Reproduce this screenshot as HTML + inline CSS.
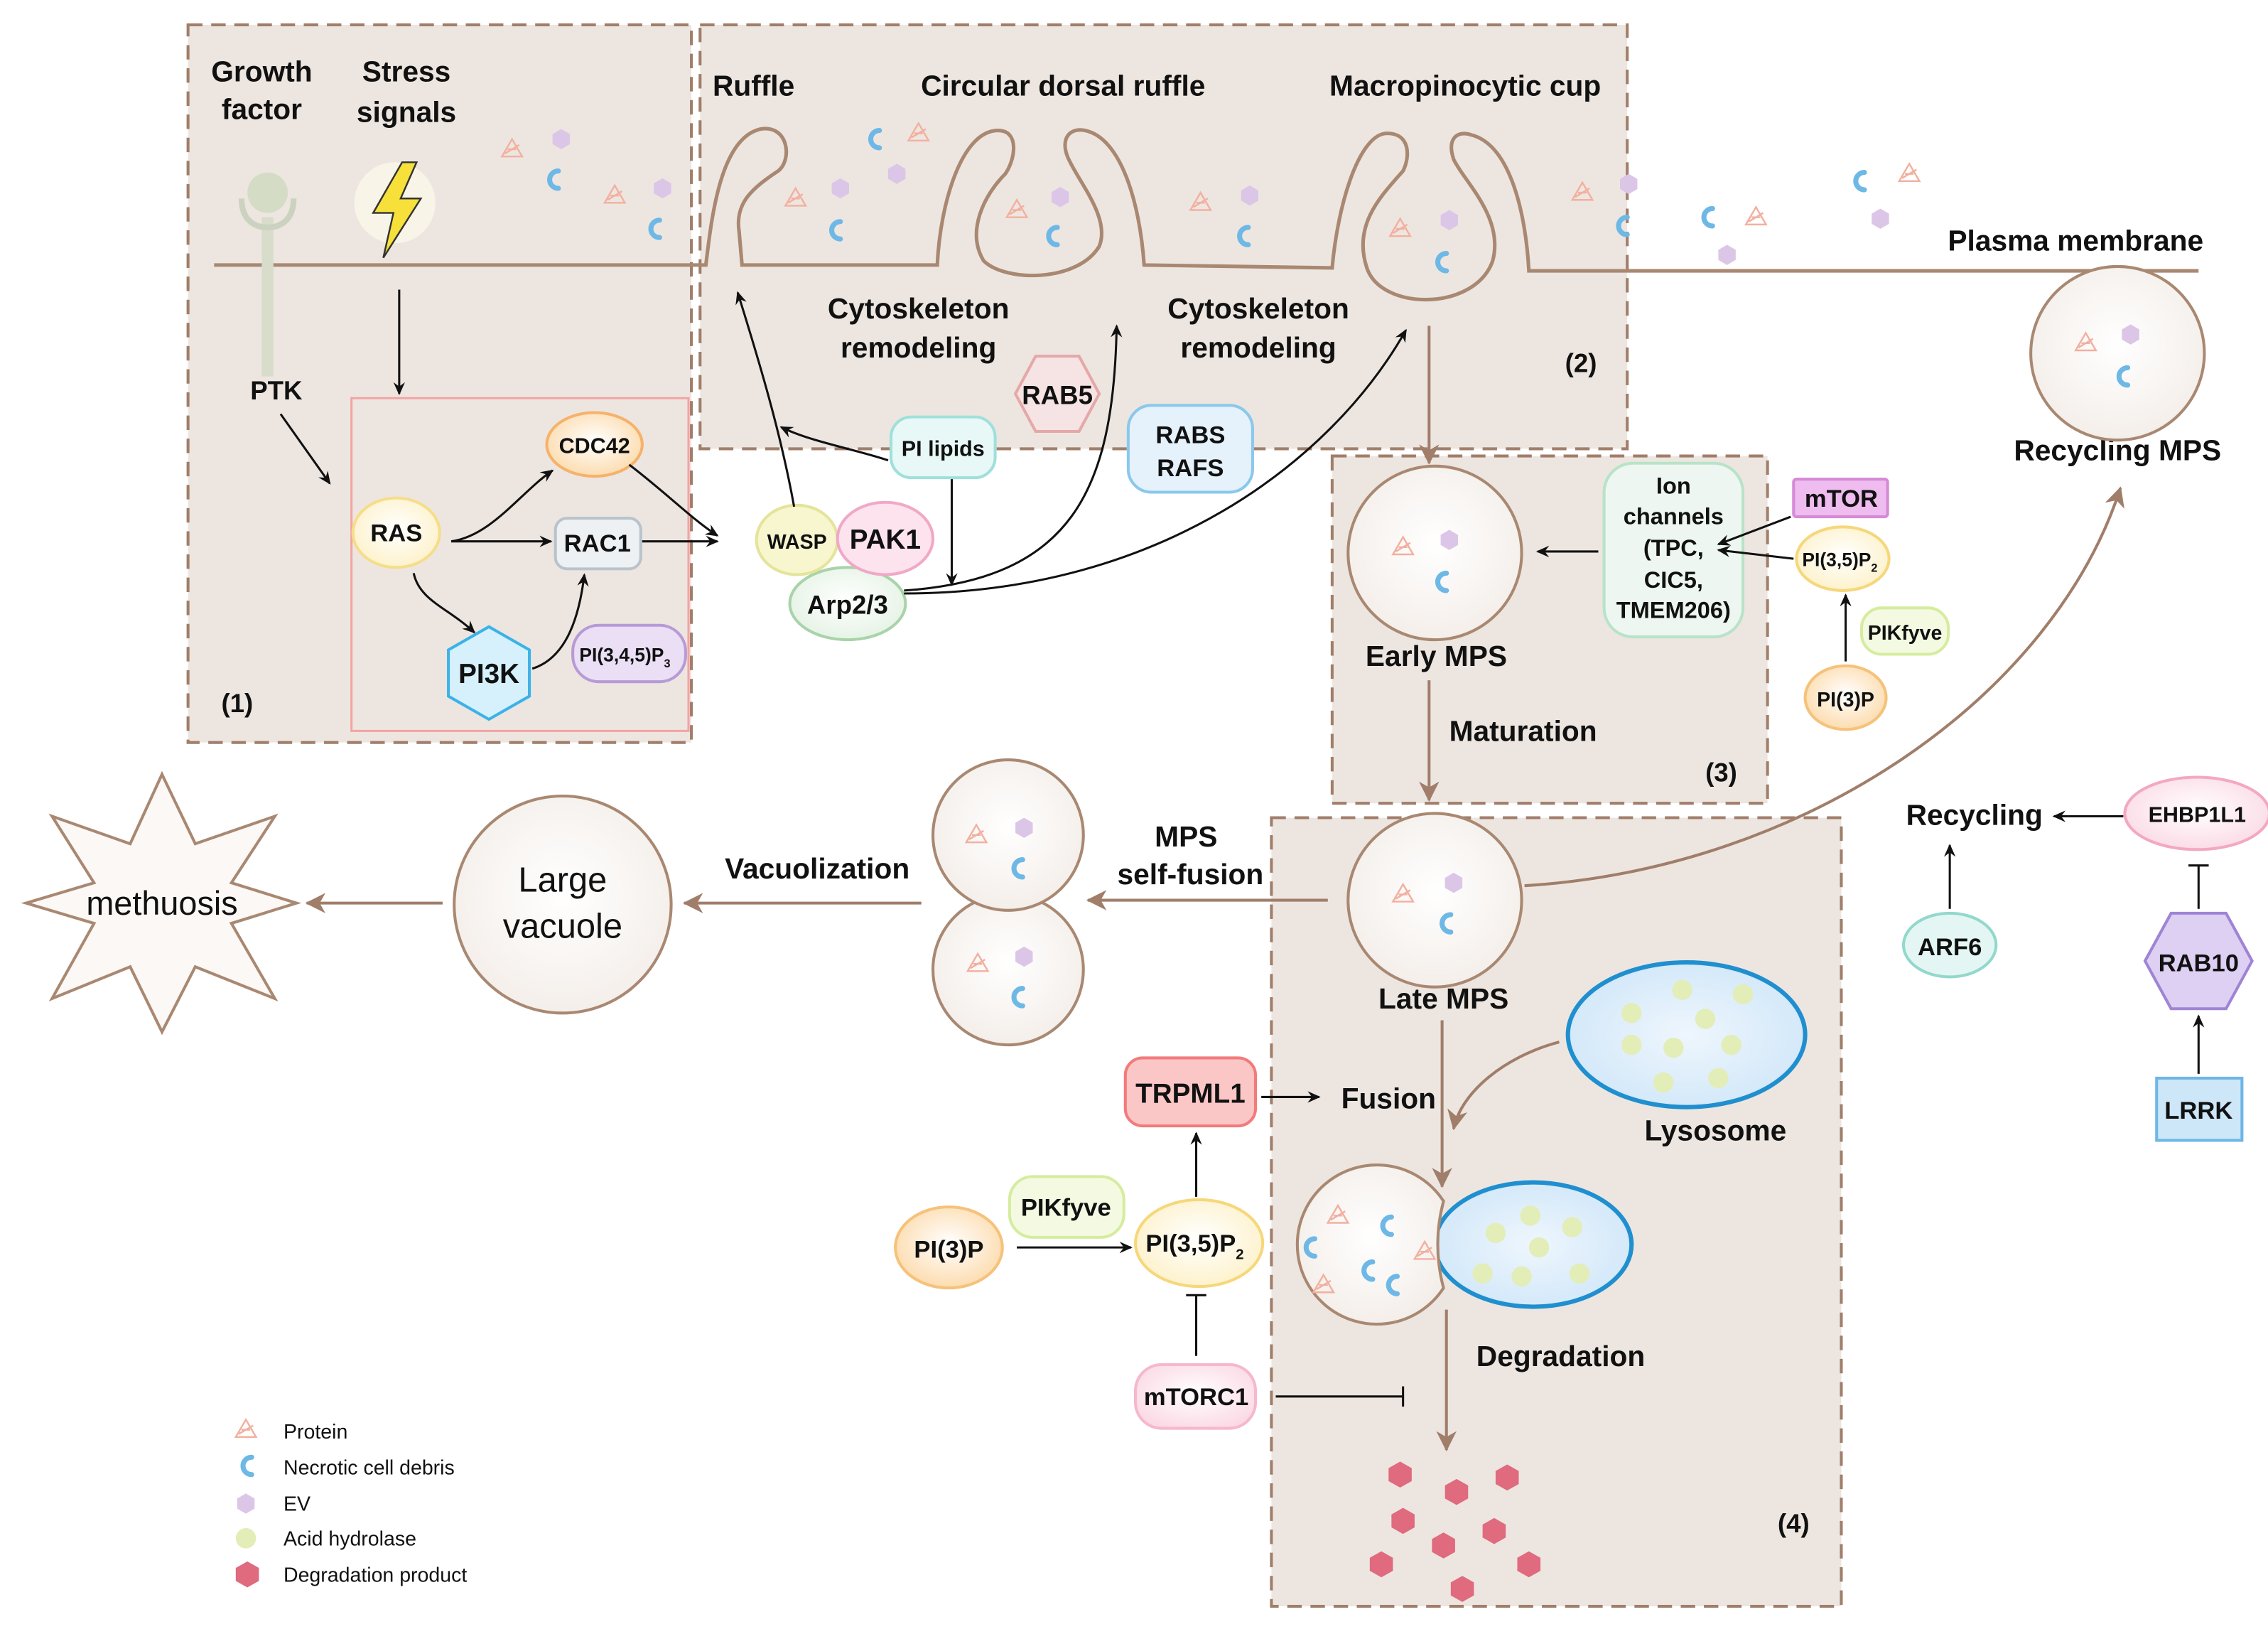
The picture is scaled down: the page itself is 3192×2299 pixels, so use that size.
<!DOCTYPE html>
<html><head><meta charset="utf-8"><style>
html,body{margin:0;padding:0;background:#fff}
svg{display:block}
text{font-family:"Liberation Sans",Arial,sans-serif;fill:#111}
.b{font-weight:bold}
</style></head><body>
<svg width="3192" height="2299" viewBox="0 0 1568 1129" xmlns="http://www.w3.org/2000/svg">
<defs>
<marker id="ab" markerWidth="10" markerHeight="10" refX="8" refY="5" orient="auto" markerUnits="userSpaceOnUse"><path d="M0,1 L9,5 L0,9 L3,5 Z" fill="#111"/></marker>
<marker id="ar" markerWidth="16" markerHeight="16" refX="13" refY="8" orient="auto" markerUnits="userSpaceOnUse"><path d="M0,1 L14,8 L0,15 L4,8 Z" fill="#a07e6a"/></marker>
<radialGradient id="gw" cx="50%" cy="45%" r="60%"><stop offset="0" stop-color="#fff"/><stop offset="1" stop-color="#f3ede8"/></radialGradient>
<radialGradient id="gl" cx="50%" cy="50%" r="60%"><stop offset="0" stop-color="#eef6fd"/><stop offset="1" stop-color="#cfe6f8"/></radialGradient>
<radialGradient id="gy" cx="50%" cy="45%" r="60%"><stop offset="0" stop-color="#fff"/><stop offset="1" stop-color="#fdf1c8"/></radialGradient>
<radialGradient id="go" cx="50%" cy="45%" r="60%"><stop offset="0" stop-color="#fff"/><stop offset="1" stop-color="#fcd9a8"/></radialGradient>
<radialGradient id="gg" cx="50%" cy="45%" r="60%"><stop offset="0" stop-color="#fff"/><stop offset="1" stop-color="#e4f2e4"/></radialGradient>
<radialGradient id="gp" cx="50%" cy="45%" r="60%"><stop offset="0" stop-color="#fff"/><stop offset="1" stop-color="#fbd9e4"/></radialGradient>
<g id="deb"><path d="M4,-6 A6,6 0 1 0 4,6" fill="none" stroke="#6eb8e6" stroke-width="3.5" stroke-linecap="round"/></g>
<g id="ev"><polygon points="0,-7 6,-3.5 6,3.5 0,7 -6,3.5 -6,-3.5" fill="#dcc6e8"/></g>
<g id="pr"><path d="M-7,5 L0,-7 L7,5 Z M-3,0 L3,0 M-5,3 L5,-3" fill="none" stroke="#f2b0a0" stroke-width="1.2"/></g>
<g id="dp"><polygon points="0,-9 8,-4.5 8,4.5 0,9 -8,4.5 -8,-4.5" fill="#e06a7e"/></g>
</defs>

<g fill="#ede6e0" stroke="#a07e6a" stroke-width="2" stroke-dasharray="10,6">
<rect x="130" y="17" width="348" height="496"/>
<rect x="484" y="17" width="641" height="293"/>
<rect x="921" y="315" width="301" height="240"/>
<rect x="879" y="565" width="394" height="545"/>
</g>
<rect x="243" y="275" width="233" height="230" fill="none" stroke="#f3a3a3" stroke-width="1.5"/>

<path d="M148,183 L488,183 C492,150 498,95 526,89 C545,86 548,110 538,118 C520,130 508,140 511,160 L513,183 L648,183 C650,140 665,90 690,90 C705,90 702,110 695,120 C680,135 668,160 680,180 C695,195 745,195 760,170 C768,150 745,125 738,108 C733,95 740,88 750,90 C775,95 788,140 791,183 L921,185 C925,140 940,92 959,92 C975,92 975,108 970,118 C955,135 935,155 945,185 C955,215 1020,215 1032,180 C1040,150 1012,125 1005,110 C1000,95 1008,90 1017,93 C1045,100 1055,150 1057,187 L1520,187" fill="none" stroke="#a98872" stroke-width="2.5"/>

<use href="#pr" x="354" y="103"/><use href="#ev" x="388" y="96"/><use href="#deb" x="382" y="124"/><use href="#pr" x="425" y="135"/><use href="#ev" x="458" y="130"/><use href="#deb" x="452" y="158"/>
<use href="#deb" x="604" y="96"/><use href="#pr" x="635" y="92"/><use href="#ev" x="620" y="120"/><use href="#ev" x="581" y="130"/><use href="#pr" x="550" y="137"/><use href="#deb" x="577" y="159"/>
<use href="#pr" x="703" y="145"/><use href="#ev" x="733" y="136"/><use href="#deb" x="727" y="163"/>
<use href="#pr" x="830" y="140"/><use href="#ev" x="864" y="135"/><use href="#deb" x="859" y="163"/>
<use href="#pr" x="968" y="158"/><use href="#ev" x="1002" y="152"/><use href="#deb" x="996" y="181"/>
<use href="#pr" x="1094" y="133"/><use href="#ev" x="1126" y="127"/><use href="#deb" x="1121" y="156"/><use href="#deb" x="1180" y="150"/><use href="#pr" x="1214" y="150"/><use href="#ev" x="1194" y="176"/><use href="#deb" x="1285" y="125"/><use href="#pr" x="1320" y="120"/><use href="#ev" x="1300" y="151"/>

<rect x="181" y="150" width="8" height="110" fill="#d7dccb"/>
<path d="M167,137 C167,152 176,157 185,157 C194,157 203,152 203,137" fill="none" stroke="#ccd2c0" stroke-width="4"/>
<circle cx="185" cy="133" r="14" fill="#d5dcc6"/>
<circle cx="273" cy="140" r="28" fill="#fbf7ea" opacity="0.8"/>
<polygon points="278,112 258,147 272,147 265,178 291,137 277,137 288,112" fill="#f8e03a" stroke="#333" stroke-width="1.2"/>

<g class="b" font-size="20" text-anchor="middle">
<text x="181" y="56" class="b">Growth</text><text x="181" y="82" class="b">factor</text>
<text x="281" y="56" class="b">Stress</text><text x="281" y="84" class="b">signals</text>
<text x="521" y="66" class="b">Ruffle</text>
<text x="735" y="66" class="b">Circular dorsal ruffle</text>
<text x="1013" y="66" class="b">Macropinocytic cup</text>
<text x="1435" y="173" class="b">Plasma membrane</text>
<text x="635" y="220" class="b">Cytoskeleton</text><text x="635" y="247" class="b">remodeling</text>
<text x="870" y="220" class="b">Cytoskeleton</text><text x="870" y="247" class="b">remodeling</text>
<text x="191" y="276" class="b" font-size="18">PTK</text>
<text x="164" y="492" class="b" font-size="18">(1)</text>
<text x="1093" y="257" class="b" font-size="18">(2)</text>
<text x="1190" y="540" class="b" font-size="18">(3)</text>
<text x="1240" y="1059" class="b" font-size="18">(4)</text>
<text x="993" y="460" class="b">Early MPS</text>
<text x="1053" y="512" class="b">Maturation</text>
<text x="1464" y="318" class="b">Recycling MPS</text>
<text x="998" y="697" class="b">Late MPS</text>
<text x="960" y="766" class="b">Fusion</text>
<text x="1186" y="788" class="b">Lysosome</text>
<text x="1079" y="944" class="b">Degradation</text>
<text x="565" y="607" class="b">Vacuolization</text>
<text x="820" y="585" class="b">MPS</text><text x="823" y="611" class="b">self-fusion</text>
<text x="1365" y="570" class="b">Recycling</text>
</g>

<ellipse cx="411" cy="307" rx="33" ry="22" fill="url(#go)" stroke="#f6b26b" stroke-width="2"/>
<text x="411" y="313" text-anchor="middle" font-size="15" class="b">CDC42</text>
<ellipse cx="274" cy="368" rx="30" ry="24" fill="url(#gy)" stroke="#f6dd8a" stroke-width="2"/>
<text x="274" y="374" text-anchor="middle" font-size="17" class="b">RAS</text>
<rect x="384" y="358" width="59" height="35" rx="8" fill="#eef1f3" stroke="#b9c3cc" stroke-width="2"/>
<text x="413" y="381" text-anchor="middle" font-size="17" class="b">RAC1</text>
<polygon points="338,433 366,449 366,481 338,497 310,481 310,449" fill="#d6f1fc" stroke="#3bb2e8" stroke-width="2"/>
<text x="338" y="472" text-anchor="middle" font-size="19" class="b">PI3K</text>
<rect x="396" y="432" width="78" height="39" rx="18" fill="#eadff4" stroke="#b89ad6" stroke-width="2"/>
<text x="432" y="457" text-anchor="middle" font-size="13" class="b">PI(3,4,5)P<tspan font-size="8" dy="4">3</tspan></text>

<ellipse cx="586" cy="417" rx="40" ry="25" fill="url(#gg)" stroke="#a9d3a9" stroke-width="2"/>
<text x="586" y="424" text-anchor="middle" font-size="18" class="b">Arp2/3</text>
<ellipse cx="551" cy="373" rx="28" ry="24" fill="#f8f6cf" stroke="#e4e49a" stroke-width="2"/>
<text x="551" y="379" text-anchor="middle" font-size="14" class="b">WASP</text>
<ellipse cx="612" cy="372" rx="33" ry="25" fill="#fde3ee" stroke="#f1a8c6" stroke-width="2"/>
<text x="612" y="379" text-anchor="middle" font-size="19" class="b">PAK1</text>
<rect x="616" y="288" width="72" height="42" rx="14" fill="#e8f8f7" stroke="#9fe0da" stroke-width="2"/>
<text x="652" y="315" text-anchor="middle" font-size="15" class="b">PI lipids</text>
<polygon points="716,246 746,246 760,272 746,298 716,298 702,272" fill="#f6e3e3" stroke="#e5a8a8" stroke-width="2"/>
<text x="731" y="279" text-anchor="middle" font-size="18" class="b">RAB5</text>
<rect x="780" y="280" width="86" height="60" rx="16" fill="#e5f2fb" stroke="#8ac8ec" stroke-width="2"/>
<text x="823" y="306" text-anchor="middle" font-size="17" class="b">RABS</text>
<text x="823" y="329" text-anchor="middle" font-size="17" class="b">RAFS</text>

<rect x="1109" y="320" width="96" height="120" rx="20" fill="#eef6f1" stroke="#b8e3c8" stroke-width="2"/>
<g text-anchor="middle" font-size="16" class="b"><text x="1157" y="341" class="b">Ion</text><text x="1157" y="362" class="b">channels</text><text x="1157" y="384" class="b">(TPC,</text><text x="1157" y="406" class="b">CIC5,</text><text x="1157" y="427" class="b">TMEM206)</text></g>
<rect x="1240" y="331" width="65" height="26" rx="2" fill="#eebcee" stroke="#d68ad6" stroke-width="2"/>
<text x="1273" y="350" text-anchor="middle" font-size="17" class="b">mTOR</text>
<ellipse cx="1274" cy="386" rx="32" ry="22" fill="url(#gy)" stroke="#f6d77a" stroke-width="2"/>
<text x="1272" y="391" text-anchor="middle" font-size="13" class="b">PI(3,5)P<tspan font-size="8" dy="4">2</tspan></text>
<rect x="1287" y="420" width="60" height="32" rx="14" fill="#f4fae2" stroke="#d6ec9e" stroke-width="2"/>
<text x="1317" y="442" text-anchor="middle" font-size="14" class="b">PIKfyve</text>
<ellipse cx="1276" cy="482" rx="28" ry="22" fill="url(#go)" stroke="#f6c27a" stroke-width="2"/>
<text x="1276" y="488" text-anchor="middle" font-size="14" class="b">PI(3)P</text>

<g fill="url(#gw)" stroke="#a98872" stroke-width="2">
<circle cx="992" cy="382" r="60"/><circle cx="992" cy="622" r="60"/><circle cx="1464" cy="244" r="60"/>
<circle cx="697" cy="670" r="52"/><circle cx="697" cy="577" r="52"/>
<circle cx="389" cy="625" r="75"/>
</g>
<use href="#pr" x="970" y="378"/><use href="#ev" x="1002" y="373"/><use href="#deb" x="996" y="402"/>
<use href="#pr" x="970" y="618"/><use href="#ev" x="1005" y="610"/><use href="#deb" x="999" y="638"/>
<use href="#pr" x="1442" y="237"/><use href="#ev" x="1473" y="231"/><use href="#deb" x="1467" y="260"/>
<use href="#pr" x="675" y="577"/><use href="#ev" x="708" y="572"/><use href="#deb" x="703" y="600"/>
<use href="#pr" x="676" y="666"/><use href="#ev" x="708" y="661"/><use href="#deb" x="703" y="689"/>
<text x="389" y="616" text-anchor="middle" font-size="24">Large</text>
<text x="389" y="648" text-anchor="middle" font-size="24">vacuole</text>
<polygon points="112,535 135,583 190,564 160,610 205,624 160,638 190,690 135,668 112,713 90,668 36,690 65,638 18,624 65,610 36,564 90,583" fill="#fbf8f5" stroke="#a98872" stroke-width="2"/>
<text x="112" y="632" text-anchor="middle" font-size="23">methuosis</text>

<ellipse cx="1166" cy="715" rx="82" ry="50" fill="url(#gl)" stroke="#1f8fcf" stroke-width="3"/>
<g fill="#e3edb8"><circle cx="1128" cy="700" r="7"/><circle cx="1163" cy="684" r="7"/><circle cx="1205" cy="687" r="7"/><circle cx="1179" cy="704" r="7"/><circle cx="1128" cy="722" r="7"/><circle cx="1157" cy="724" r="7"/><circle cx="1197" cy="722" r="7"/><circle cx="1150" cy="748" r="7"/><circle cx="1188" cy="745" r="7"/></g>
<ellipse cx="1060" cy="860" rx="68" ry="43" fill="url(#gl)" stroke="#1f8fcf" stroke-width="3"/>
<path d="M998,830 A55,55 0 1 0 998,890 Q990,860 998,830 Z" fill="url(#gw)" stroke="#a98872" stroke-width="2"/>
<g fill="#e3edb8"><circle cx="1034" cy="852" r="7"/><circle cx="1058" cy="840" r="7"/><circle cx="1087" cy="848" r="7"/><circle cx="1064" cy="862" r="7"/><circle cx="1025" cy="880" r="7"/><circle cx="1052" cy="882" r="7"/><circle cx="1092" cy="880" r="7"/></g>
<use href="#pr" x="925" y="840"/><use href="#deb" x="958" y="847"/><use href="#deb" x="905" y="862"/><use href="#pr" x="985" y="865"/><use href="#deb" x="945" y="878"/><use href="#pr" x="915" y="888"/><use href="#deb" x="962" y="888"/>

<rect x="778" y="731" width="90" height="47" rx="12" fill="#fbc6c6" stroke="#f27b7b" stroke-width="2"/>
<text x="823" y="762" text-anchor="middle" font-size="19" class="b">TRPML1</text>
<rect x="698" y="813" width="79" height="42" rx="16" fill="#f4fae2" stroke="#d6ec9e" stroke-width="2"/>
<text x="737" y="840" text-anchor="middle" font-size="17" class="b">PIKfyve</text>
<ellipse cx="656" cy="862" rx="37" ry="28" fill="url(#go)" stroke="#f6c27a" stroke-width="2"/>
<text x="656" y="869" text-anchor="middle" font-size="17" class="b">PI(3)P</text>
<ellipse cx="829" cy="859" rx="44" ry="30" fill="url(#gy)" stroke="#f6d77a" stroke-width="2"/>
<text x="826" y="865" text-anchor="middle" font-size="17" class="b">PI(3,5)P<tspan font-size="10" dy="5">2</tspan></text>
<rect x="785" y="943" width="83" height="44" rx="18" fill="url(#gp)" stroke="#f5b8cc" stroke-width="2"/>
<text x="827" y="971" text-anchor="middle" font-size="17" class="b">mTORC1</text>

<ellipse cx="1519" cy="562" rx="50" ry="25" fill="url(#gp)" stroke="#f3a8c2" stroke-width="2"/>
<text x="1519" y="568" text-anchor="middle" font-size="15" class="b">EHBP1L1</text>
<polygon points="1501,631 1539,631 1557,664 1539,697 1501,697 1483,664" fill="#ddd0f2" stroke="#9f84d4" stroke-width="2"/>
<text x="1520" y="671" text-anchor="middle" font-size="17" class="b">RAB10</text>
<rect x="1491" y="745" width="59" height="43" fill="#cde7f8" stroke="#6eb6e6" stroke-width="2"/>
<text x="1520" y="773" text-anchor="middle" font-size="17" class="b">LRRK</text>
<ellipse cx="1348" cy="653" rx="32" ry="22" fill="#e4f6f3" stroke="#92d8cc" stroke-width="2"/>
<text x="1348" y="660" text-anchor="middle" font-size="17" class="b">ARF6</text>

<use href="#dp" x="968" y="1019"/><use href="#dp" x="1007" y="1031"/><use href="#dp" x="1042" y="1021"/><use href="#dp" x="970" y="1051"/><use href="#dp" x="1033" y="1058"/><use href="#dp" x="998" y="1068"/><use href="#dp" x="955" y="1081"/><use href="#dp" x="1057" y="1081"/><use href="#dp" x="1011" y="1098"/>

<g fill="none" stroke="#111" stroke-width="1.5" marker-end="url(#ab)">
<line x1="276" y1="200" x2="276" y2="272"/>
<line x1="194" y1="286" x2="228" y2="334"/>
<path d="M312,374 C340,370 360,340 382,325"/>
<line x1="312" y1="374" x2="381" y2="374"/>
<path d="M286,396 C290,415 310,420 328,437"/>
<path d="M368,462 C390,455 400,430 404,397"/>
<line x1="444" y1="374" x2="496" y2="374"/>
<path d="M435,321 C460,340 480,360 496,370"/>
<path d="M549,350 C540,300 525,250 510,202"/>
<path d="M614,318 C590,310 560,305 540,295"/>
<line x1="658" y1="331" x2="658" y2="404"/>
<path d="M625,408 C740,400 770,340 772,225"/>
<path d="M625,410 C800,410 920,320 972,228"/>
<line x1="1105" y1="381" x2="1063" y2="381"/>
<line x1="1238" y1="357" x2="1188" y2="376"/>
<line x1="1240" y1="386" x2="1188" y2="380"/>
<line x1="1276" y1="457" x2="1276" y2="411"/>
<line x1="872" y1="758" x2="912" y2="758"/>
<line x1="827" y1="827" x2="827" y2="783"/>
<line x1="703" y1="862" x2="782" y2="862"/>
<line x1="1468" y1="564" x2="1420" y2="564"/>
<line x1="1348" y1="628" x2="1348" y2="584"/>
<line x1="1520" y1="742" x2="1520" y2="702"/>
</g>
<g stroke="#111" stroke-width="1.5">
<line x1="827" y1="937" x2="827" y2="895"/><line x1="820" y1="895" x2="834" y2="895"/>
<line x1="882" y1="965" x2="970" y2="965"/><line x1="970" y1="958" x2="970" y2="972"/>
<line x1="1520" y1="628" x2="1520" y2="598"/><line x1="1513" y1="598" x2="1527" y2="598"/>
</g>

<g fill="none" stroke="#a07e6a" stroke-width="2" marker-end="url(#ar)">
<line x1="988" y1="225" x2="988" y2="320"/>
<line x1="988" y1="470" x2="988" y2="553"/>
<line x1="997" y1="705" x2="997" y2="820"/>
<path d="M1078,720 C1040,730 1010,755 1005,780"/>
<line x1="1000" y1="905" x2="1000" y2="1002"/>
<line x1="918" y1="622" x2="752" y2="622"/>
<line x1="637" y1="624" x2="473" y2="624"/>
<line x1="306" y1="624" x2="212" y2="624"/>
<path d="M1054,612 C1250,600 1420,480 1466,337"/>
</g>

<use href="#pr" x="170" y="988"/><text x="196" y="994" font-size="14">Protein</text>
<use href="#deb" x="170" y="1013"/><text x="196" y="1019" font-size="14">Necrotic cell debris</text>
<use href="#ev" x="170" y="1039"/><text x="196" y="1044" font-size="14">EV</text>
<circle cx="170" cy="1063" r="7" fill="#e3edb8"/><text x="196" y="1068" font-size="14">Acid hydrolase</text>
<use href="#dp" x="171" y="1088"/><text x="196" y="1093" font-size="14">Degradation product</text>
</svg>
</body></html>
